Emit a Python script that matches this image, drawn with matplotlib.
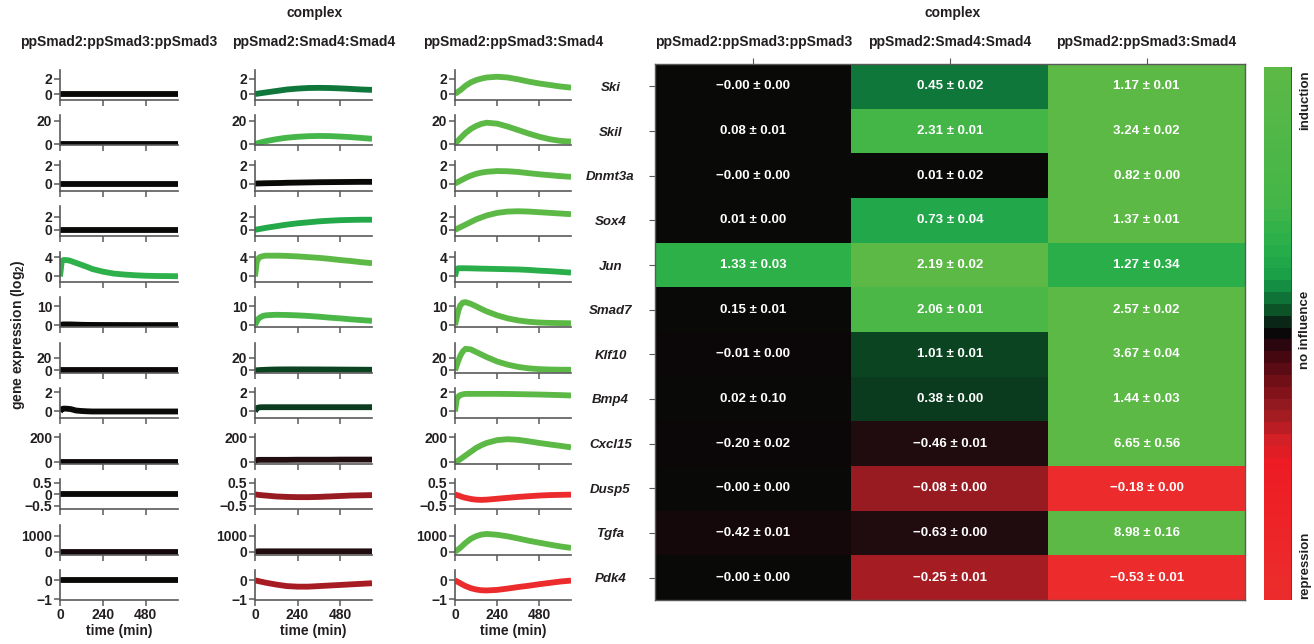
import numpy as np
import matplotlib.pyplot as plt
from matplotlib.colors import LinearSegmentedColormap, FuncNorm, Normalize
from matplotlib.cm import ScalarMappable
from matplotlib.ticker import FuncFormatter

plt.rcParams['font.family'] = ['Liberation Sans', 'DejaVu Sans']
plt.rcParams['font.weight'] = 'bold'
plt.rcParams['axes.labelweight'] = 'bold'
plt.rcParams['mathtext.fontset'] = 'custom'
plt.rcParams['mathtext.rm'] = 'Liberation Sans:bold'
plt.rcParams['mathtext.bf'] = 'Liberation Sans:bold'

complexes = ['ppSmad2:ppSmad3:ppSmad3', 'ppSmad2:Smad4:Smad4', 'ppSmad2:ppSmad3:Smad4']
genes = ['Ski', 'Skil', 'Dnmt3a', 'Sox4', 'Jun', 'Smad7',
         'Klf10', 'Bmp4', 'Cxcl15', 'Dusp5', 'Tgfa', 'Pdk4']

# simulated time courses (log2 gene expression), one list per complex
t_min = [0, 10, 20, 30, 45, 60, 90, 120, 150, 180, 240, 300, 360, 420, 480, 540, 600, 660]
flat = [0.0] * len(t_min)

ski = [flat,
       [0, 0.03, 0.06, 0.1, 0.15, 0.2, 0.3, 0.4, 0.5, 0.6, 0.72, 0.8, 0.82, 0.8, 0.75, 0.68, 0.6, 0.55],
       [0, 0.18, 0.35, 0.5, 0.8, 1.1, 1.55, 1.85, 2.05, 2.2, 2.3, 2.2, 1.95, 1.65, 1.4, 1.2, 1.0, 0.85]]
skil = [flat,
        [0, 0.5, 1.0, 1.4, 2.0, 2.5, 3.4, 4.2, 4.9, 5.5, 6.3, 6.8, 7.0, 6.9, 6.5, 6.0, 5.3, 4.6],
        [0, 1.8, 3.5, 5, 7.3, 9.5, 13, 15.5, 17.3, 18.3, 17.5, 15, 12, 9, 6.3, 4.2, 2.8, 2.2]]
dnmt3a = [flat,
          [0, 0, 0.01, 0.01, 0.02, 0.03, 0.04, 0.05, 0.06, 0.08, 0.1, 0.12, 0.14, 0.15, 0.16, 0.17, 0.18, 0.18],
          [0, 0.1, 0.2, 0.3, 0.45, 0.6, 0.85, 1.05, 1.18, 1.27, 1.35, 1.33, 1.25, 1.12, 1.0, 0.9, 0.8, 0.72]]
sox4 = [flat,
        [0, 0.05, 0.1, 0.15, 0.22, 0.3, 0.43, 0.55, 0.68, 0.8, 1.0, 1.15, 1.3, 1.4, 1.48, 1.52, 1.55, 1.55],
        [0, 0.13, 0.27, 0.4, 0.6, 0.8, 1.2, 1.6, 1.9, 2.2, 2.6, 2.8, 2.85, 2.8, 2.7, 2.6, 2.5, 2.4]]
jun = [[0, 3.2, 3.4, 3.4, 3.35, 3.2, 2.8, 2.4, 2.0, 1.55, 1.0, 0.6, 0.4, 0.25, 0.15, 0.1, 0.08, 0.05],
       [0, 3.0, 3.8, 4.05, 4.2, 4.3, 4.3, 4.3, 4.28, 4.25, 4.15, 4.0, 3.85, 3.65, 3.4, 3.2, 2.95, 2.75],
       [0, 1.6, 1.7, 1.7, 1.7, 1.7, 1.68, 1.65, 1.62, 1.6, 1.55, 1.5, 1.45, 1.35, 1.2, 1.1, 0.95, 0.8]]
smad7 = [[0, 0.3, 0.4, 0.4, 0.4, 0.38, 0.3, 0.2, 0.15, 0.12, 0.1, 0.08, 0.07, 0.06, 0.05, 0.05, 0.05, 0.05],
         [0, 2.0, 3.5, 4.2, 4.9, 5.2, 5.4, 5.5, 5.45, 5.4, 5.2, 4.9, 4.5, 4.0, 3.6, 3.1, 2.7, 2.3],
         [0, 4, 8, 10.5, 12, 12.2, 11.3, 10, 8.6, 7.3, 5.2, 3.6, 2.5, 1.8, 1.4, 1.2, 1.1, 1.0]]
klf10 = [flat,
         [0, 0.2, 0.4, 0.6, 0.8, 1.0, 1.3, 1.5, 1.55, 1.6, 1.6, 1.55, 1.5, 1.4, 1.3, 1.2, 1.1, 1.0],
         [0, 8, 16, 23, 30, 34, 33, 29, 25, 21, 14, 9, 5.5, 3.2, 2.0, 1.4, 1.1, 1.0]]
bmp4 = [[0, 0.25, 0.3, 0.3, 0.28, 0.25, 0.1, 0.05, 0.02, 0, 0, 0, 0, 0, 0, 0, 0, 0],
        [0, 0.35, 0.42, 0.44, 0.45, 0.45, 0.45, 0.45, 0.45, 0.45, 0.45, 0.45, 0.45, 0.45, 0.45, 0.45, 0.45, 0.45],
        [0, 1.3, 1.6, 1.72, 1.8, 1.85, 1.85, 1.85, 1.85, 1.85, 1.85, 1.84, 1.82, 1.8, 1.78, 1.75, 1.72, 1.68]]
cxcl15 = [flat,
          [10, 18, 20, 20, 20, 20, 20, 20, 20, 20, 21, 21, 21, 21, 22, 22, 22, 22],
          [0, 8, 16, 25, 40, 55, 85, 115, 137, 155, 178, 185, 180, 168, 155, 143, 132, 120]]
dusp5 = [flat,
         [0, -0.01, -0.02, -0.03, -0.04, -0.05, -0.07, -0.09, -0.1, -0.11, -0.12, -0.12, -0.11, -0.09, -0.07, -0.05, -0.04, -0.03],
         [0, -0.03, -0.05, -0.08, -0.12, -0.15, -0.2, -0.23, -0.24, -0.23, -0.19, -0.15, -0.11, -0.08, -0.05, -0.03, -0.02, -0.01]]
tgfa = [flat,
        [0, 20, 30, 30, 30, 30, 30, 30, 30, 30, 30, 30, 30, 30, 30, 30, 30, 30],
        [0, 80, 165, 250, 400, 550, 800, 960, 1060, 1100, 1050, 950, 820, 680, 560, 440, 330, 240]]
pdk4 = [flat,
        [0, -0.02, -0.04, -0.06, -0.09, -0.12, -0.17, -0.22, -0.26, -0.3, -0.33, -0.33, -0.3, -0.27, -0.24, -0.21, -0.18, -0.15],
        [0, -0.05, -0.1, -0.15, -0.23, -0.3, -0.41, -0.48, -0.52, -0.53, -0.5, -0.43, -0.35, -0.28, -0.2, -0.13, -0.06, -0.01]]
curves = [ski, skil, dnmt3a, sox4, jun, smad7, klf10, bmp4, cxcl15, dusp5, tgfa, pdk4]

y_ticks = [[0, 2], [0, 20], [0, 2], [0, 2], [0, 4], [0, 10],
           [0, 20], [0, 2], [0, 200], [-0.5, 0, 0.5], [0, 1000], [-1, 0]]
y_lims = [(-0.8, 3.2), (-1.1, 24.5), (-0.8, 2.45), (-1.0, 3.6), (-1.1, 5.1), (-1.1, 14.8),
          (-3.6, 43.6), (-0.7, 2.45), (-10, 230), (-0.64, 0.67), (-165, 1680), (-1.03, 0.55)]

# heatmap: mean +/- error per complex
mean_p3p3 = [-0.0, 0.08, -0.0, 0.01, 1.33, 0.15, -0.01, 0.02, -0.20, -0.0, -0.42, -0.0]
err_p3p3 = [0.00, 0.01, 0.00, 0.00, 0.03, 0.01, 0.00, 0.10, 0.02, 0.00, 0.01, 0.00]
mean_s4s4 = [0.45, 2.31, 0.01, 0.73, 2.19, 2.06, 1.01, 0.38, -0.46, -0.08, -0.63, -0.25]
err_s4s4 = [0.02, 0.01, 0.02, 0.04, 0.02, 0.01, 0.01, 0.00, 0.01, 0.00, 0.00, 0.01]
mean_p3s4 = [1.17, 3.24, 0.82, 1.37, 1.27, 2.57, 3.67, 1.44, 6.65, -0.18, 8.98, -0.53]
err_p3s4 = [0.01, 0.02, 0.00, 0.01, 0.34, 0.02, 0.04, 0.03, 0.56, 0.00, 0.16, 0.01]

means = np.array([mean_p3p3, mean_s4s4, mean_p3s4]).T
errs = np.array([err_p3p3, err_s4s4, err_p3s4]).T
rel = means / np.abs(means).max(axis=1, keepdims=True)

anchors = [(-1.0, '#ec2c2c'), (-0.5, '#ed1c24'), (-0.4, '#d01f26'), (-0.33, '#a81c22'),
           (-0.3, '#9a1c22'), (-0.2, '#7a1018'), (-0.1, '#4a0810'), (-0.04, '#28060e'),
           (-0.018, '#200c10'), (-0.008, '#0e0609'), (0.0, '#0a0808'), (0.02, '#070f0a'),
           (0.05, '#0a2a18'), (0.08, '#0c4a24'), (0.12, '#0f6a34'), (0.15, '#0f7a3c'),
           (0.2, '#179a46'), (0.28, '#22a84a'), (0.36, '#2cb04a'), (0.5, '#44b649'),
           (0.64, '#4ab748'), (1.0, '#5cb946')]
cmap = LinearSegmentedColormap.from_list('ind_rep', [((p + 1) / 2, c) for p, c in anchors])


def fwd(v):
    v = np.asarray(v, dtype=float)
    return np.where(v >= 0, np.abs(v) ** 2, -np.abs(v) ** 1.5)


def inv(p):
    p = np.asarray(p, dtype=float)
    return np.where(p >= 0, np.abs(p) ** 0.5, -np.abs(p) ** (1 / 1.5))


norm = FuncNorm((fwd, inv), vmin=-1, vmax=1)

W, H = 1314, 644
fig = plt.figure(figsize=(W / 100, H / 100), dpi=100)


def box(x0, y0, x1, y1):
    return [x0 / W, 1 - y1 / H, (x1 - x0) / W, (y1 - y0) / H]


ink = '#231f20'
spine_c = '#5a5a5a'
col_px = [(60, 178), (255, 372), (455, 571)]

fmt = FuncFormatter(lambda v, _: f'{v:g}'.replace('-', '\u2212'))

for r, gene in enumerate(genes):
    top = 70 + r * 45.45
    for c in range(3):
        x0, x1 = col_px[c]
        ax = fig.add_axes(box(x0, top, x1, top + 30))
        color = cmap(norm(rel[r, c]))
        ax.plot(t_min, curves[r][c], color=color, lw=4.2, solid_capstyle='butt')
        ax.set_xlim(0, 660)
        ax.set_ylim(*y_lims[r])
        ax.set_xticks([0, 240, 480])
        ax.set_yticks(y_ticks[r])
        ax.yaxis.set_major_formatter(fmt)
        for s in ['top', 'right']:
            ax.spines[s].set_visible(False)
        for s in ['left', 'bottom']:
            ax.spines[s].set_color(spine_c)
            ax.spines[s].set_linewidth(1.2)
        ax.tick_params(length=4, width=1.1, color=spine_c, labelsize=10,
                       labelcolor=ink, pad=1.5)
        if r < len(genes) - 1:
            ax.set_xticklabels([])
        else:
            ax.set_xlabel('time (min)', fontsize=10, color=ink, labelpad=2)
        if r == 0:
            fig.text((x0 + x1) / 2 / W, 1 - 42 / H, complexes[c], ha='center',
                     va='center', fontsize=10, color=ink)

fig.text(315 / W, 1 - 13 / H, 'complex', ha='center', va='center', fontsize=10, color=ink)
fig.text(18 / W, 1 - 335 / H, 'gene expression (log$_{2}$)', rotation=90,
         ha='center', va='center', fontsize=10, color=ink)

# heatmap
axh = fig.add_axes(box(655, 64, 1245, 600))
axh.imshow(rel, cmap=cmap, norm=norm, aspect='auto', interpolation='nearest')
for r in range(len(genes)):
    for c in range(3):
        txt = f'{means[r, c]:.2f} \u00b1 {errs[r, c]:.2f}'.replace('-', '\u2212')
        axh.text(c, r, txt, ha='center', va='center', color='white',
                 fontsize=9.5, fontweight='bold')
axh.xaxis.tick_top()
axh.set_xticks(range(3))
axh.set_xticklabels(complexes, fontsize=10, color=ink)
axh.set_yticks(range(len(genes)))
axh.set_yticklabels(genes, fontsize=9.5, fontstyle='italic', color=ink, ha='center')
axh.tick_params(axis='x', length=4, color=spine_c, pad=7)
axh.tick_params(axis='y', length=4, color=spine_c, pad=28)
for s in axh.spines.values():
    s.set_color(spine_c)
    s.set_linewidth(1)
fig.text(953 / W, 1 - 13 / H, 'complex', ha='center', va='center', fontsize=10, color=ink)

# colour bar
cax = fig.add_axes(box(1264, 67, 1292, 600))
cb = fig.colorbar(ScalarMappable(norm=Normalize(-1, 1), cmap=cmap.resampled(45)), cax=cax)
cb.set_ticks([])
cb.outline.set_visible(False)
cax.axvline(1, color='#444444', lw=1.2)
for label, yp in [('induction', 100), ('no influence', 330), ('repression', 565)]:
    fig.text(1305 / W, 1 - yp / H, label, rotation=90, ha='center', va='center',
             fontsize=9.5, color=ink)

fig.savefig('out.png', dpi=100)
